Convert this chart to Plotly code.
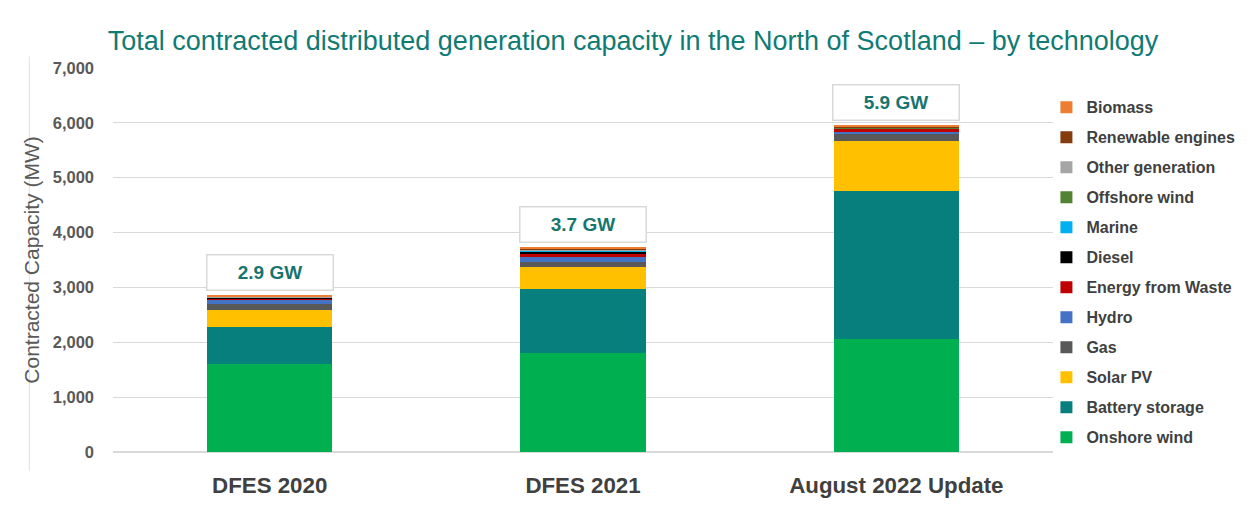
import plotly.graph_objects as go

categories = ["DFES 2020", "DFES 2021", "August 2022 Update"]
technologies = ["Onshore wind", "Battery storage", "Solar PV", "Gas", "Hydro",
                "Energy from Waste", "Diesel", "Marine", "Offshore wind",
                "Other generation", "Renewable engines", "Biomass"]
colors = ["#00B050", "#077F7D", "#FFC000", "#595959", "#4472C4", "#C00000",
          "#000000", "#00B0F0", "#548235", "#A5A5A5", "#843C0C", "#ED7D31"]

onshore_wind = [1600, 1810, 2060]
battery_storage = [670, 1165, 2690]
solar_pv = [315, 400, 925]
gas = [105, 90, 125]
hydro = [90, 90, 40]
energy_from_waste = [20, 50, 50]
diesel = [15, 50, 10]
marine = [5, 10, 5]
offshore_wind = [2, 5, 2]
other_generation = [10, 20, 15]
renewable_engines = [10, 20, 15]
biomass = [8, 10, 10]
total_labels = ["2.9 GW", "3.7 GW", "5.9 GW"]

series = [onshore_wind, battery_storage, solar_pv, gas, hydro, energy_from_waste,
          diesel, marine, offshore_wind, other_generation, renewable_engines, biomass]

FONT = "Liberation Sans"
fig = go.Figure()
n = len(technologies)
for i, (name, vals, col) in enumerate(zip(technologies, series, colors)):
    fig.add_trace(go.Bar(x=categories, y=vals, name=name, marker_color=col,
                         marker_line_width=0, legendgroup=name,
                         legendrank=1000 + (n - i)))

totals = [sum(s[i] for s in series) for i in range(len(categories))]
for cat, tot, lab in zip(categories, totals, total_labels):
    fig.add_annotation(x=cat, y=tot, yref="y", text="<b>" + lab + "</b>",
                       showarrow=False, yanchor="bottom", yshift=5,
                       font=dict(family=FONT, size=19, color="#17756F"),
                       bgcolor="white", bordercolor="#D9D9D9", borderwidth=1.5,
                       width=121, height=30, borderpad=2)

fig.add_shape(type="line", xref="paper", yref="paper", x0=-0.089, x1=-0.089,
              y0=-0.05, y1=1.03, line=dict(color="#E0E0E0", width=1))

fig.update_layout(
    barmode="stack", bargap=0.6,
    width=1250, height=505,
    paper_bgcolor="white", plot_bgcolor="white",
    margin=dict(l=105, r=205, t=60, b=61, autoexpand=False),
    title=dict(text="Total contracted distributed generation capacity in the North of Scotland – by technology",
               x=0.5, xanchor="center", y=0.936, yanchor="middle",
               font=dict(family=FONT, size=27, color="#0F7B74")),
    font=dict(family=FONT),
    legend=dict(traceorder="grouped", x=0.993, xanchor="left", y=0.942, yanchor="top",
                font=dict(family=FONT, size=16, color="#404040", weight="bold"),
                tracegroupgap=6.2, itemwidth=30, bgcolor="rgba(0,0,0,0)", maxheight=1.0),
    showlegend=True,
)
fig.update_yaxes(range=[0, 7000], dtick=1000, tickformat=",", showgrid=True,
                 gridcolor="#D9D9D9", gridwidth=1, zeroline=True, zerolinecolor="#D9D9D9",
                 showline=False, ticks="", ticklabelstandoff=18, automargin=False,
                 tickfont=dict(family=FONT, size=16.5, color="#595959", weight="bold"),
                 title=dict(text="Contracted Capacity (MW)", standoff=7,
                            font=dict(family=FONT, size=21, color="#595959")))
fig.update_xaxes(showline=False, ticks="", automargin=False, ticklabelstandoff=18,
                 tickfont=dict(family=FONT, size=22.3, color="#404040", weight="bold"))

fig.write_html("out.html")
